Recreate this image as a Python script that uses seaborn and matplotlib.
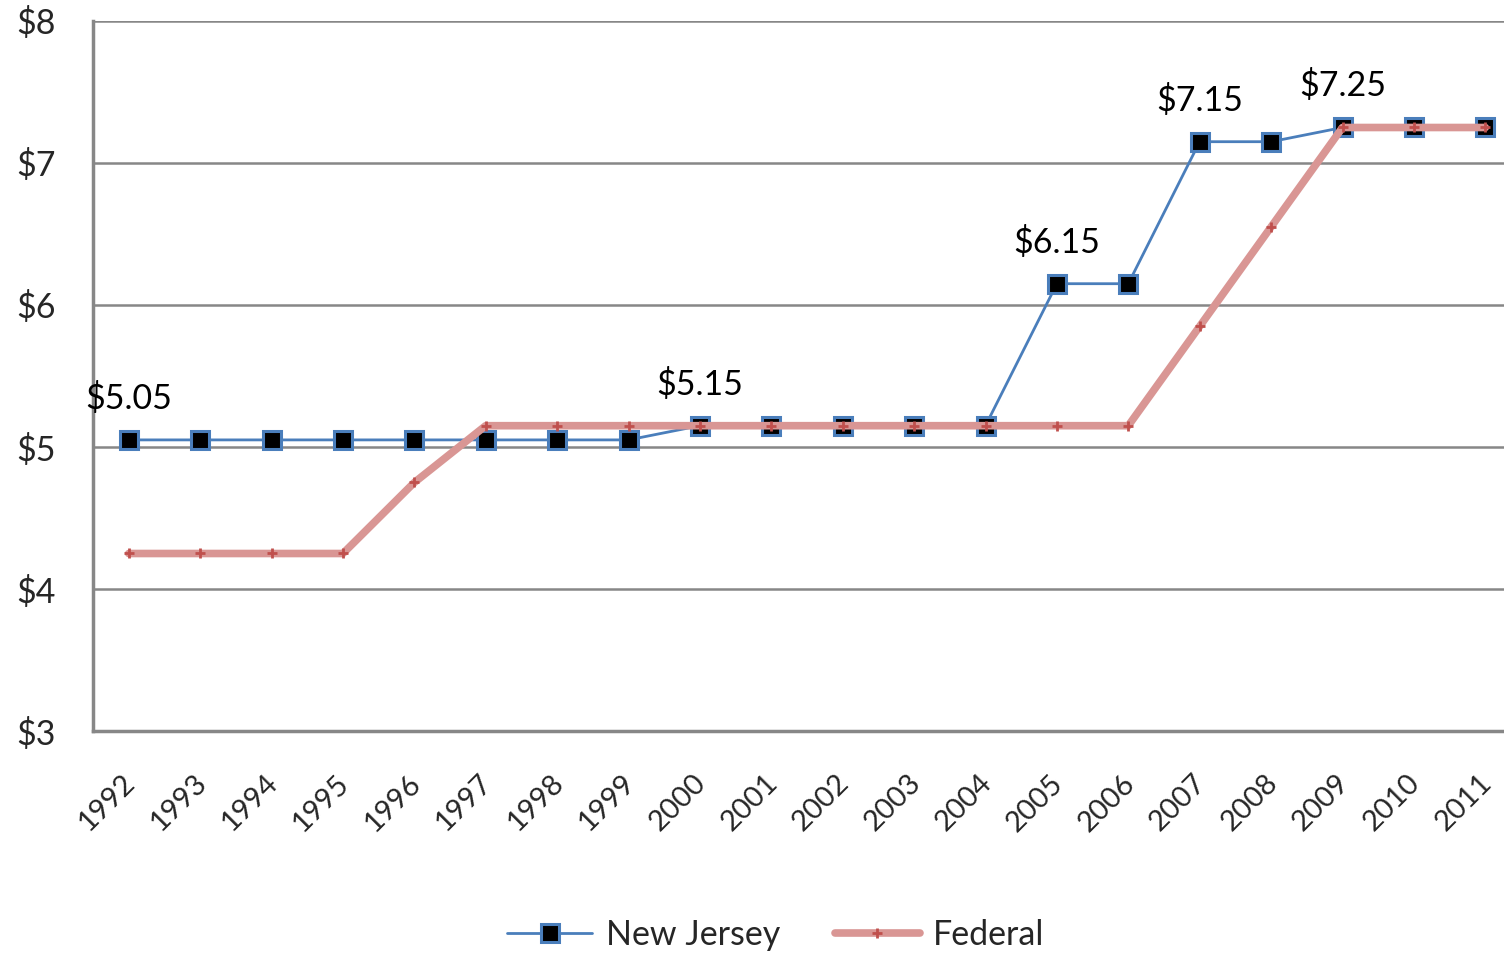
import matplotlib
matplotlib.use("Agg")
import matplotlib.pyplot as plt
import matplotlib.transforms as mtransforms
import seaborn as sns
import pandas as pd

years = [str(y) for y in range(1992, 2012)]
new_jersey = [5.05]*8 + [5.15]*5 + [6.15]*2 + [7.15]*2 + [7.25]*3
federal = [4.25]*4 + [4.75] + [5.15]*10 + [5.85, 6.55] + [7.25]*3
annot_idx = [0, 8, 13, 15, 17]
annot_txt = ["$5.05", "$5.15", "$6.15", "$7.15", "$7.25"]
y_ticks = [3, 4, 5, 6, 7, 8]

sns.set_theme(style="white")
plt.rcParams['font.family'] = ['Lato', 'DejaVu Sans']

df = pd.DataFrame({"idx": range(len(years)), "nj": new_jersey, "fed": federal})

fig = plt.figure(figsize=(15.04, 9.55), dpi=100)
ax = fig.add_axes([93/1504, (955-731)/955, (1521-93)/1504, (731-21)/955])

for v in y_ticks[1:]:
    ax.axhline(v, color="#878787", lw=1.8, zorder=0)

sns.lineplot(data=df, x="idx", y="nj", ax=ax, color="#4A7EBB", lw=2,
             marker="s", markersize=13, markerfacecolor="black",
             markeredgecolor="#4A7EBB", markeredgewidth=2.2, label="New Jersey", zorder=3)
sns.lineplot(data=df, x="idx", y="fed", ax=ax, color="#D99694", lw=5.5,
             marker="+", markersize=7, markeredgecolor="#C0504D",
             markeredgewidth=2, label="Federal", zorder=4)

for i, t in zip(annot_idx, annot_txt):
    ax.annotate(t, (i, new_jersey[i]), xytext=(0, 18), textcoords="offset points",
                ha="center", va="bottom", fontsize=24.5, color="black")

ax.set_xlim(-0.5, len(years) - 0.5)
ax.set_ylim(3, 8)
ax.set_yticks(y_ticks)
ax.set_yticklabels([f"${v}" for v in y_ticks], fontsize=24.5)
ax.set_xticks(range(len(years)))
ax.set_xticklabels(years, rotation=45, ha="right", rotation_mode="anchor", fontsize=21)
ax.tick_params(axis="y", length=0, pad=27)
ax.tick_params(axis="x", length=0, pad=28)
shift = mtransforms.ScaledTranslation(-7/100, 0, fig.dpi_scale_trans)
for lab in ax.get_xticklabels():
    lab.set_transform(lab.get_transform() + shift)
ax.set_xlabel("")
ax.set_ylabel("")

for s in ["top", "right"]:
    ax.spines[s].set_visible(False)
for s in ["left", "bottom"]:
    ax.spines[s].set_color("#878787")
    ax.spines[s].set_linewidth(2.5)

ax.legend(loc="center", bbox_to_anchor=(776/1504, (955-935)/955),
          bbox_transform=fig.transFigure, ncol=2, frameon=False, fontsize=24.5,
          handlelength=2.5, columnspacing=1.6, handletextpad=0.4)

fig.savefig("out.png", dpi=100)
